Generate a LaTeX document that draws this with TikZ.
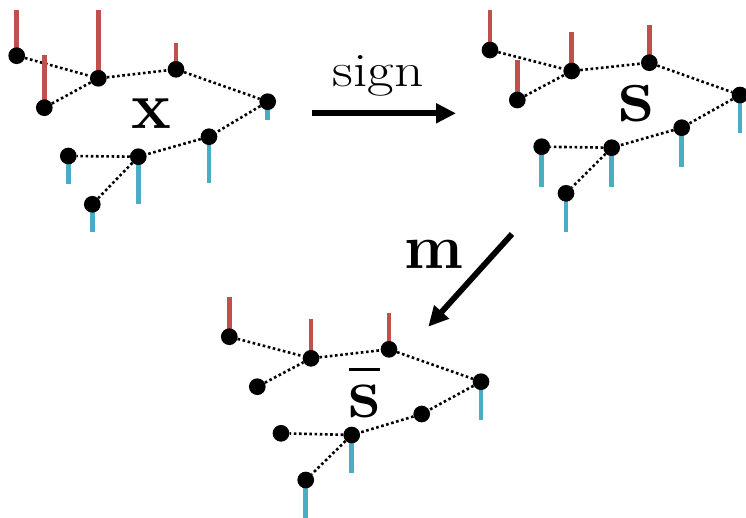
\documentclass[tikz,border=0pt]{standalone}
\usetikzlibrary{arrows.meta}
\definecolor{stemred}{HTML}{C0504D}
\definecolor{stemblue}{HTML}{4BACC6}
\pgfdeclarelayer{edgelayer}
\pgfdeclarelayer{stemlayer}
\pgfsetlayers{edgelayer,stemlayer,main}
\tikzset{
  dot/.style={circle, fill=black, inner sep=0pt, minimum size=16.7pt},
  link/.style={line width=2.6pt, dash pattern=on 2.6pt off 2.6pt},
  redstem/.style={line width=4.5pt, stemred},
  bluestem/.style={line width=4.5pt, stemblue},
  bigarrow/.style={line width=5.8pt, -{Triangle[length=20pt,width=19pt]}},
  lbl/.style={inner sep=0pt, anchor=base}
}
\begin{document}
\begin{tikzpicture}[x=1pt,y=-1pt]
\useasboundingbox (0,0) rectangle (746,517);
% ---------- graph x ----------
\node[dot] (n1) at (16.7,55.7) {};
\node[dot] (n2) at (44.3,107.7) {};
\node[dot] (n3) at (98.3,78.3) {};
\node[dot] (n4) at (176,69.3) {};
\node[dot] (n5) at (267.7,101.7) {};
\node[dot] (n6) at (209,136.7) {};
\node[dot] (n7) at (138.3,156.7) {};
\node[dot] (n8) at (68.3,156) {};
\node[dot] (n9) at (92.3,204.3) {};
\coordinate (t1) at (16.7,10);
\coordinate (t2) at (44.3,55);
\coordinate (t3) at (98.3,10);
\coordinate (t4) at (176,42.7);
\coordinate (t5) at (267.7,120);
\coordinate (t6) at (209,183.3);
\coordinate (t7) at (138.3,204.3);
\coordinate (t8) at (68.3,184.3);
\coordinate (t9) at (92.3,232.3);
\node[lbl, font=\fontsize{67}{70}\selectfont] (lx) at (151.7,128.3) {\textbf{x}};
% ---------- graph s ----------
\node[dot] (s1) at (490,50) {};
\node[dot] (s2) at (517.3,100) {};
\node[dot] (s3) at (571.7,71) {};
\node[dot] (s4) at (649.3,62.7) {};
\node[dot] (s5) at (740,95) {};
\node[dot] (s6) at (681.7,127.7) {};
\node[dot] (s7) at (611.7,147.7) {};
\node[dot] (s8) at (541.7,146.7) {};
\node[dot] (s9) at (566,193.3) {};
\coordinate (u1) at (490,10);
\coordinate (u2) at (517.3,60);
\coordinate (u3) at (571.7,31.7);
\coordinate (u4) at (649.3,25);
\coordinate (u5) at (740,133.3);
\coordinate (u6) at (681.7,166.7);
\coordinate (u7) at (611.7,186.7);
\coordinate (u8) at (541.7,186.7);
\coordinate (u9) at (566,231.7);
\node[lbl, font=\fontsize{80}{84}\selectfont] (ls) at (636.7,121.7) {\textbf{s}};
% ---------- graph s-bar ----------
\node[dot] (b1) at (229.3,336.7) {};
\node[dot] (b2) at (257.3,386.7) {};
\node[dot] (b3) at (311,358.3) {};
\node[dot] (b4) at (389,349.3) {};
\node[dot] (b5) at (481,381.7) {};
\node[dot] (b6) at (421.7,414) {};
\node[dot] (b7) at (351.7,435) {};
\node[dot] (b8) at (281,433.3) {};
\node[dot] (b9) at (305.7,480) {};
\coordinate (v1) at (229.3,296.7);
\coordinate (v3) at (311,319);
\coordinate (v4) at (389,312.7);
\coordinate (v5) at (481,420);
\coordinate (v7) at (351.7,473.3);
\coordinate (v9) at (305.7,522);
\node[lbl, font=\fontsize{72}{76}\selectfont] (lb) at (364.3,417)
  {\textbf{\makebox[0pt][l]{\hspace{0.6pt}\rule[46.3pt]{31pt}{3pt}}s}};
% ---------- arrows ----------
\coordinate (a1) at (311.7,113.3);
\coordinate (a2) at (456,113.3);
\draw[bigarrow] (a1) -- (a2);
\node[lbl, font=\fontsize{48}{52}\selectfont] (lsign) at (378,86.7) {\scalebox{1.2}[1]{sign}};
\coordinate (m1) at (512,234);
\coordinate (m2) at (428.3,326.7);
\draw[bigarrow] (m1) -- (m2);
\node[lbl, font=\fontsize{63}{66}\selectfont] (lm) at (434,268.3) {\textbf{m}};
% ---------- edges ----------
\begin{pgfonlayer}{edgelayer}
\foreach \p in {n,s,b}{
  \draw[link] (\p1) -- (\p3);
  \draw[link] (\p2) -- (\p3);
  \draw[link] (\p3) -- (\p4);
  \draw[link] (\p4) -- (\p5);
  \draw[link] (\p5) -- (\p6);
  \draw[link] (\p6) -- (\p7);
  \draw[link] (\p7) -- (\p8);
  \draw[link] (\p7) -- (\p9);
}
\end{pgfonlayer}
% ---------- stems ----------
\begin{pgfonlayer}{stemlayer}
\foreach \a/\b in {n1/t1,n2/t2,n3/t3,n4/t4,s1/u1,s2/u2,s3/u3,s4/u4,b1/v1,b3/v3,b4/v4}
  \draw[redstem] (\a.center) -- (\b);
\foreach \a/\b in {n5/t5,n6/t6,n7/t7,n8/t8,n9/t9,s5/u5,s6/u6,s7/u7,s8/u8,s9/u9,b5/v5,b7/v7,b9/v9}
  \draw[bluestem] (\a.center) -- (\b);
\end{pgfonlayer}
\end{tikzpicture}
\end{document}
